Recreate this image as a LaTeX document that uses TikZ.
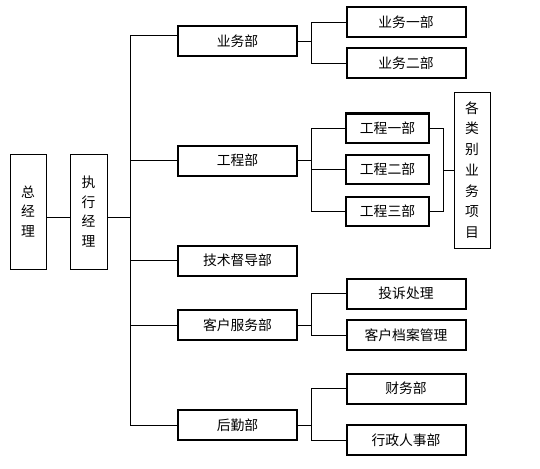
\documentclass[tikz,border=0pt]{standalone}
\usepackage{fontspec}
\setmainfont{Noto Sans CJK SC}
\begin{document}
\begin{tikzpicture}[x=1pt,y=-1pt,
  every node/.style={inner sep=0pt,font=\fontsize{13.8}{15}\selectfont},
  thinbox/.style={draw,line width=0.9pt,align=center,font=\fontsize{13.8}{19.5}\selectfont},
  thickbox/.style={draw,line width=2pt,minimum height=30,minimum width=119},
  engbox/.style={draw,line width=2pt,minimum height=29,minimum width=83},
  conn/.style={line width=0.9pt}]
\useasboundingbox (0,0) rectangle (540,468);
% left boxes
\node[thinbox,minimum width=36,minimum height=115] (zjl) at (28,211.5) {总\\经\\理};
\node[thinbox,minimum width=37,minimum height=115] (zxjl) at (88.5,211.5) {执\\行\\经\\理};
% mid-level
\node[thickbox] (yw) at (237.5,41) {业务部};
\node[thickbox] (gc) at (237.5,160.5) {工程部};
\node[thickbox] (js) at (237.5,260.5) {技术督导部};
\node[thickbox] (kh) at (237.5,325) {客户服务部};
\node[thickbox] (hq) at (237.5,425) {后勤部};
% sub-level
\node[thickbox] (yw1) at (406,22) {业务一部};
\node[thickbox] (yw2) at (406,63) {业务二部};
\node[engbox] (gc1) at (387.5,128) {工程一部};
\node[engbox] (gc2) at (387.5,169) {工程二部};
\node[engbox] (gc3) at (387.5,211.5) {工程三部};
\node[thinbox,minimum width=36,minimum height=156,font=\fontsize{13.8}{20.7}\selectfont] (glb) at (472,170) {各\\类\\别\\业\\务\\项\\目};
\node[thickbox] (ts) at (406,293.5) {投诉处理};
\node[thickbox] (kda) at (406,335) {客户档案管理};
\node[thickbox] (cw) at (406,388.5) {财务部};
\node[thickbox] (xz) at (406,440) {行政人事部};
% coordinates of buses
\coordinate (trunk) at (130,0);
\coordinate (bus) at (311,0);
\coordinate (brk) at (443,0);
% connectors
\draw[conn] ([yshift=-5.5pt]zjl.east) -- ([yshift=-5.5pt]zxjl.west);
\draw[conn] ([yshift=-5.5pt]zxjl.east) -- ([yshift=-5.5pt]zxjl.east -| trunk);
\coordinate (t1) at (130,35);
\coordinate (t5) at (130,425);
\draw[conn] (yw.west |- t1) -- (t1) -- (t5) -- (hq.west);
\draw[conn] (gc.west) -- (gc.west -| trunk);
\draw[conn] (js.west) -- (js.west -| trunk);
\draw[conn] (kh.west) -- (kh.west -| trunk);
% yw bus
\draw[conn] (yw.east) -- (yw.east -| bus);
\draw[conn] (yw1.west) -- (yw1.west -| bus) -- (yw2.west -| bus) -- (yw2.west);
% gc bus
\draw[conn] (gc.east) -- (gc.east -| bus);
\draw[conn] (gc1.west) -- (gc1.west -| bus) -- (gc3.west -| bus) -- (gc3.west);
\draw[conn] (gc2.west) -- (gc2.west -| bus);
\draw[conn] (gc1.east) -- (gc1.east -| brk) -- (gc3.east -| brk) -- (gc3.east);
\draw[conn] (glb.west) -- (glb.west -| brk);
% kh bus
\draw[conn] (kh.east) -- (kh.east -| bus);
\draw[conn] (ts.west) -- (ts.west -| bus) -- (kda.west -| bus) -- (kda.west);
% hq bus
\draw[conn] (hq.east) -- (hq.east -| bus);
\draw[conn] (cw.west) -- (cw.west -| bus) -- (xz.west -| bus) -- (xz.west);
\end{tikzpicture}
\end{document}
